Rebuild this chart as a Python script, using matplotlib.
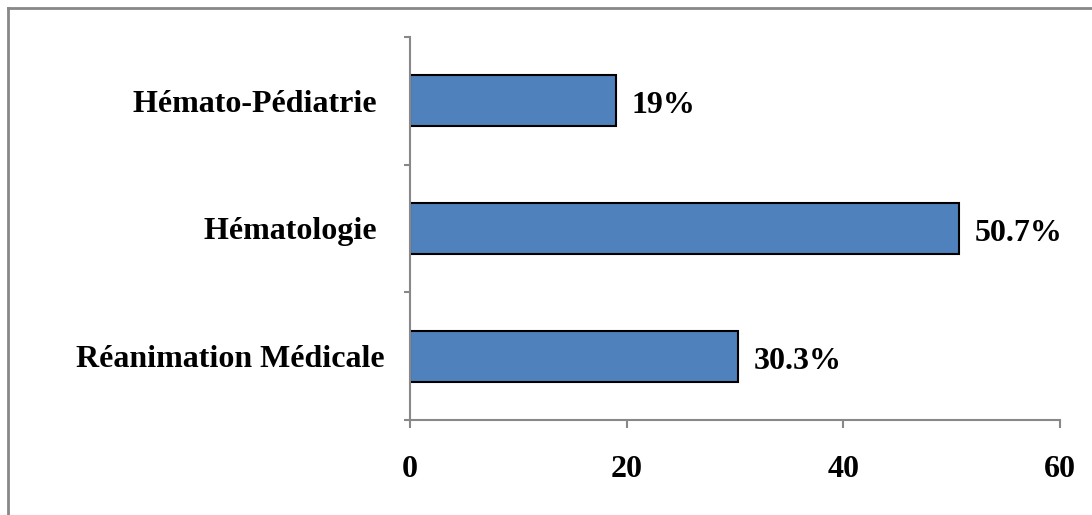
import matplotlib.pyplot as plt
from matplotlib.lines import Line2D

services = ["Réanimation Médicale", "Hématologie ", "Hémato-Pédiatrie "]
percentages = [30.3, 50.7, 19]
value_labels = ["30.3%", "50.7%", "19%"]
x_ticks = [0, 20, 40, 60]

plt.rcParams['font.family'] = ['Liberation Serif', 'DejaVu Serif']
plt.rcParams['font.weight'] = 'bold'

fig = plt.figure(figsize=(10.92, 5.15), dpi=100)
ax = fig.add_axes([0.3755, 0.1845, 0.5952, 0.7437])

pos = list(range(len(services)))
ax.barh(pos, percentages, height=0.4, color='#4F81BD', edgecolor='black', linewidth=1.5)

for p, v, lab in zip(pos, percentages, value_labels):
    ax.text(v + 1.4, p - 0.04, lab, va='center', ha='left', fontsize=23, fontweight='bold')

ax.set_xlim(0, 60)
ax.set_ylim(-0.5, 2.5)
ax.set_xticks(x_ticks)
ax.set_xticklabels([str(t) for t in x_ticks], fontsize=23, fontweight='bold')
ax.set_yticks([-0.5, 0.5, 1.5, 2.5])
ax.set_yticklabels([])
ax.set_yticks(pos, minor=True)
ax.set_yticklabels(services, minor=True, fontsize=23, fontweight='bold')
ax.tick_params(axis='y', which='minor', length=0, pad=18)
ax.tick_params(axis='y', which='major', length=4, width=1.5, color='#888888')
ax.tick_params(axis='x', length=6, width=1.5, color='#888888', pad=19)

for side in ['top', 'right']:
    ax.spines[side].set_visible(False)
for side in ['left', 'bottom']:
    ax.spines[side].set_color('#888888')
    ax.spines[side].set_linewidth(1.5)

# chart frame (only top and left edges are visible)
fx = 8 / 1092
fy = 1 - 8 / 515
fig.add_artist(Line2D([fx, 1], [fy, fy], color='#888888', lw=2, transform=fig.transFigure))
fig.add_artist(Line2D([fx, fx], [0, fy], color='#888888', lw=2, transform=fig.transFigure))

fig.savefig('out.png', dpi=100)
